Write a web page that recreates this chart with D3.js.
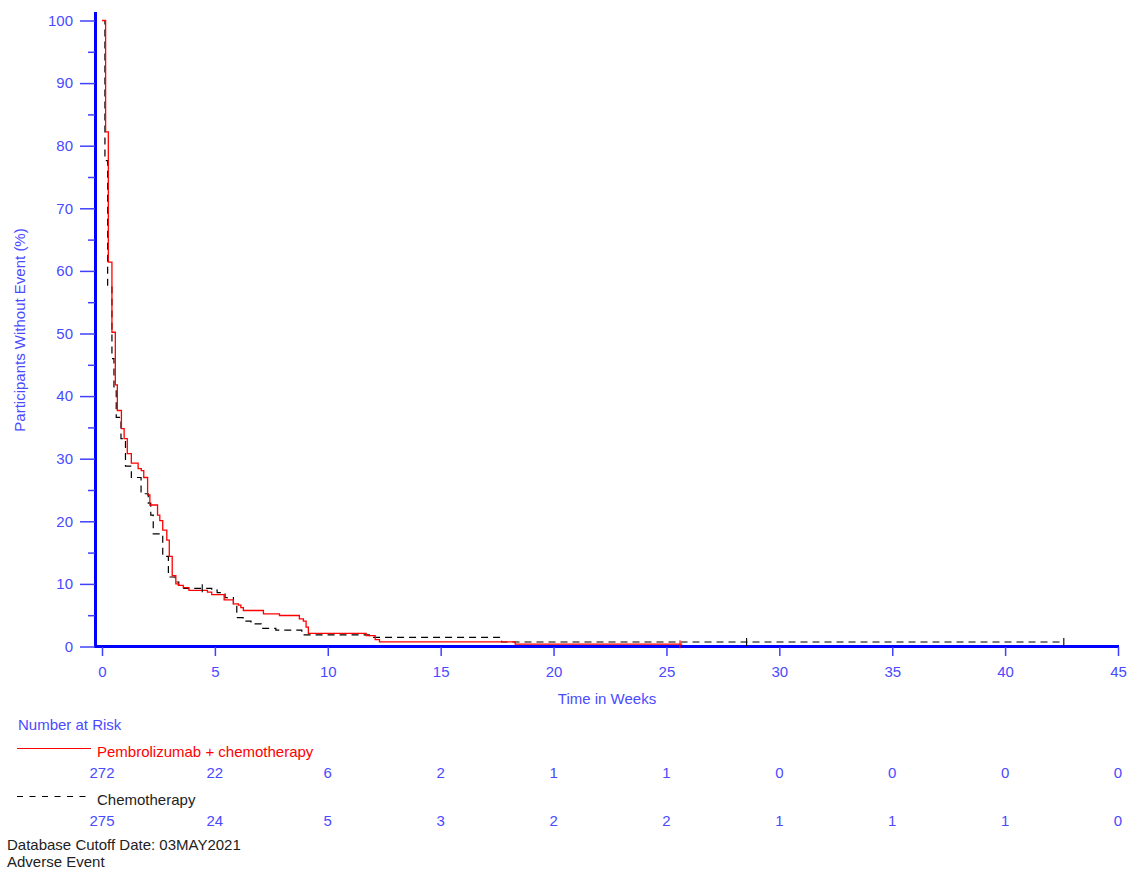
<!DOCTYPE html>
<html>
<head>
<meta charset="utf-8">
<script src="https://cdn.jsdelivr.net/npm/d3@7"></script>
<style>
  html, body { margin: 0; padding: 0; background: #fff; }
  svg { display: block; font-family: "Liberation Sans", Arial, sans-serif; }
</style>
</head>
<body>
<svg id="chart" width="1127" height="870"></svg>
<script>
// Kaplan-Meier estimates (weeks, % without event)
const pembroTimes = [0, 0.16, 0.28, 0.44, 0.59, 0.68, 0.86, 0.98, 1.12, 1.30, 1.60, 1.74, 1.85, 2.02, 2.12, 2.46, 2.56, 2.69, 2.87, 2.98, 3.11, 3.27, 3.38, 3.60, 3.85, 4.67, 4.86, 5.41, 5.82, 6.04, 6.15, 6.26, 7.15, 7.86, 8.74, 8.92, 9.04, 9.14, 11.70, 12.10, 12.29, 18.30, 25.70];
const pembroSurv  = [100, 82.2, 61.4, 50.2, 41.8, 37.7, 34.8, 33.2, 30.8, 29.3, 28.4, 28.1, 27.0, 24.2, 22.6, 21.0, 20.1, 18.6, 17.0, 14.4, 11.3, 10.0, 9.75, 9.4, 8.95, 8.7, 8.3, 7.45, 6.8, 6.6, 6.2, 5.75, 5.2, 4.95, 4.4, 4.05, 3.1, 2.1, 1.75, 1.1, 0.74, 0.37, 0.37];
const pembroCensored = [25.6, 25.7];

const chemoTimes = [0, 0.13, 0.25, 0.44, 0.53, 0.63, 0.84, 1.04, 1.30, 1.73, 2.05, 2.16, 2.27, 2.69, 2.94, 3.24, 3.40, 3.62, 4.86, 5.10, 5.45, 5.82, 5.97, 6.25, 6.60, 7.05, 7.70, 8.85, 11.84, 17.70, 42.60];
const chemoSurv  = [100, 77.6, 57.4, 46.0, 41.0, 36.6, 33.2, 28.8, 27.0, 24.4, 22.9, 21.0, 18.0, 14.4, 11.1, 10.3, 9.75, 9.3, 9.0, 8.6, 7.8, 6.8, 4.6, 4.05, 3.6, 2.9, 2.6, 1.85, 1.45, 0.72, 0.72];
const chemoCensored = [4.44, 28.55, 42.6];

// Number at risk at each 5-week mark
const riskWeeks  = [0, 5, 10, 15, 20, 25, 30, 35, 40, 45];
const pembroRisk = [272, 22, 6, 2, 1, 1, 0, 0, 0, 0];
const chemoRisk  = [275, 24, 5, 3, 2, 2, 1, 1, 1, 0];

const yTicks = [0, 10, 20, 30, 40, 50, 60, 70, 80, 90, 100];
const yMinorTicks = [5, 15, 25, 35, 45, 55, 65, 75, 85, 95];
const xTicks = [0, 5, 10, 15, 20, 25, 30, 35, 40, 45];

const armNames = ["Pembrolizumab + chemotherapy", "Chemotherapy"];

const blue = "#0000ff";
const textBlue = "#4a4aff";
const fontSize = 15;

const svg = d3.select("#chart");
const x = d3.scaleLinear().domain([0, 45]).range([102, 1118]);
const y = d3.scaleLinear().domain([0, 100]).range([646.5, 20.5]);

// Axis lines
svg.append("line").attr("x1", 95.5).attr("x2", 95.5).attr("y1", 12).attr("y2", 648)
  .attr("stroke", blue).attr("stroke-width", 3);
svg.append("line").attr("x1", 94).attr("x2", 1119).attr("y1", 646.5).attr("y2", 646.5)
  .attr("stroke", blue).attr("stroke-width", 3);

// Y axis: labelled major ticks
const yAxis = d3.axisLeft(y).tickValues(yTicks).tickSize(15).tickPadding(7).tickFormat(d3.format("d"));
const gy = svg.append("g").attr("transform", "translate(95,0)").call(yAxis);
gy.select(".domain").remove();
gy.selectAll(".tick line").attr("stroke", "#4040ff").attr("stroke-width", 1.5);
gy.selectAll(".tick text").attr("fill", textBlue).attr("font-size", fontSize)
  .attr("font-family", "Liberation Sans, Arial, sans-serif");

// Y axis: minor ticks
const yMinor = d3.axisLeft(y).tickValues(yMinorTicks).tickSize(7).tickFormat("");
const gym = svg.append("g").attr("transform", "translate(95,0)").call(yMinor);
gym.select(".domain").remove();
gym.selectAll(".tick line").attr("stroke", "#4040ff").attr("stroke-width", 1.5);

// X axis
const xAxis = d3.axisBottom(x).tickValues(xTicks).tickSize(9).tickPadding(10).tickFormat(d3.format("d"));
const gx = svg.append("g").attr("transform", "translate(0,647)").call(xAxis);
gx.select(".domain").remove();
gx.selectAll(".tick line").attr("stroke", "#4040ff").attr("stroke-width", 1.5);
gx.selectAll(".tick text").attr("fill", textBlue).attr("font-size", fontSize)
  .attr("font-family", "Liberation Sans, Arial, sans-serif");

// Axis titles
svg.append("text").attr("transform", "translate(25,330) rotate(-90)")
  .attr("text-anchor", "middle").attr("fill", textBlue).attr("font-size", fontSize)
  .text("Participants Without Event (%)");
svg.append("text").attr("x", 607).attr("y", 704)
  .attr("text-anchor", "middle").attr("fill", textBlue).attr("font-size", fontSize)
  .text("Time in Weeks");

// Survival curves
const step = d3.line().x(d => x(d[0])).y(d => y(d[1])).curve(d3.curveStepAfter);
const pembroPts = pembroTimes.map((t, i) => [t, pembroSurv[i]]);
const chemoPts = chemoTimes.map((t, i) => [t, chemoSurv[i]]);

svg.append("path").datum(chemoPts).attr("d", step)
  .attr("fill", "none").attr("stroke", "#000").attr("stroke-width", 1.2)
  .attr("stroke-dasharray", "7,5");
svg.append("path").datum(pembroPts).attr("d", step)
  .attr("fill", "none").attr("stroke", "#ff0000").attr("stroke-width", 1.3);

// Censoring marks
function survAt(times, surv, t) {
  let s = surv[0];
  for (let i = 0; i < times.length; i++) { if (times[i] <= t) s = surv[i]; }
  return s;
}
svg.selectAll(".cens-chemo").data(chemoCensored).enter().append("line")
  .attr("x1", d => x(d)).attr("x2", d => x(d))
  .attr("y1", d => y(survAt(chemoTimes, chemoSurv, d)) - 4)
  .attr("y2", d => y(survAt(chemoTimes, chemoSurv, d)) + 4)
  .attr("stroke", "#000").attr("stroke-width", 1.1);
svg.selectAll(".cens-pembro").data(pembroCensored.slice(0, 1)).enter().append("line")
  .attr("x1", d => x(d)).attr("x2", d => x(d))
  .attr("y1", d => y(survAt(pembroTimes, pembroSurv, d)) - 4)
  .attr("y2", d => y(survAt(pembroTimes, pembroSurv, d)) + 4)
  .attr("stroke", "#ff0000").attr("stroke-width", 1.1);

// Number at risk table
svg.append("text").attr("x", 18).attr("y", 730).attr("fill", textBlue).attr("font-size", fontSize)
  .text("Number at Risk");

svg.append("line").attr("x1", 17).attr("x2", 91).attr("y1", 748.5).attr("y2", 748.5)
  .attr("stroke", "#ff0000").attr("stroke-width", 1.2);
svg.append("text").attr("x", 97).attr("y", 757).attr("fill", "#ff0000").attr("font-size", fontSize)
  .text(armNames[0]);
svg.selectAll(".risk-pembro").data(pembroRisk).enter().append("text")
  .attr("x", (d, i) => x(riskWeeks[i])).attr("y", 778)
  .attr("text-anchor", "middle").attr("fill", textBlue).attr("font-size", fontSize)
  .text(d => d);

svg.append("line").attr("x1", 17).attr("x2", 91).attr("y1", 796.5).attr("y2", 796.5)
  .attr("stroke", "#000").attr("stroke-width", 1.2).attr("stroke-dasharray", "6,6.5");
svg.append("text").attr("x", 97).attr("y", 805).attr("fill", "#222").attr("font-size", fontSize)
  .text(armNames[1]);
svg.selectAll(".risk-chemo").data(chemoRisk).enter().append("text")
  .attr("x", (d, i) => x(riskWeeks[i])).attr("y", 826)
  .attr("text-anchor", "middle").attr("fill", textBlue).attr("font-size", fontSize)
  .text(d => d);

// Footnotes
svg.append("text").attr("x", 7).attr("y", 850).attr("fill", "#222").attr("font-size", fontSize)
  .text("Database Cutoff Date: 03MAY2021");
svg.append("text").attr("x", 7).attr("y", 867).attr("fill", "#222").attr("font-size", fontSize)
  .text("Adverse Event");
</script>
</body>
</html>
